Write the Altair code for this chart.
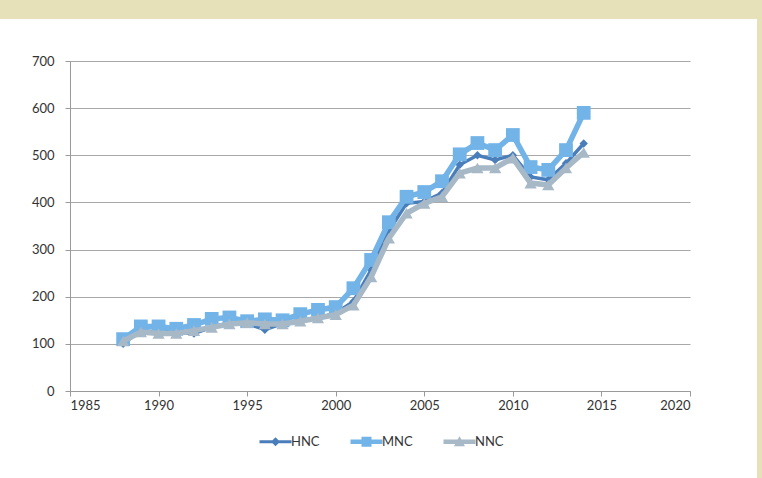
import altair as alt
import pandas as pd

years = list(range(1988, 2015))
hnc = [100, 128, 125, 125, 122, 135, 145, 143, 130, 143, 148, 155, 165, 190, 257, 340, 398, 402, 420, 480, 500, 490, 500, 454, 448, 483, 525]
mnc = [110, 137, 137, 132, 140, 153, 156, 148, 152, 150, 163, 172, 178, 218, 278, 358, 412, 422, 445, 502, 526, 511, 543, 475, 469, 511, 590]
nnc = [106, 125, 122, 122, 128, 135, 142, 145, 142, 142, 148, 155, 162, 182, 242, 324, 377, 398, 412, 462, 473, 473, 494, 441, 437, 473, 506]

series = ["HNC", "MNC", "NNC"]
colors = ["#4a7ebb", "#72b3e8", "#a7b8c6"]
x_ticks = [1985, 1990, 1995, 2000, 2005, 2010, 2015, 2020]
y_ticks = [0, 100, 200, 300, 400, 500, 600, 700]

rows = []
for name, vals in zip(series, [hnc, mnc, nnc]):
    for yr, v in zip(years, vals):
        rows.append({"year": yr, "value": v, "series": name})
df = pd.DataFrame(rows)

FONT = "Lato"

xenc = alt.X("year:Q", scale=alt.Scale(domain=[1985, 2020], nice=False, zero=False),
             axis=alt.Axis(values=x_ticks, format="d", title=None, grid=False,
                           domainColor="#9a9a9a", tickColor="#9a9a9a", tickSize=5,
                           labelPadding=3, labelFont=FONT, labelFontSize=13,
                           labelColor="#333333"))
yenc = alt.Y("value:Q", scale=alt.Scale(domain=[0, 700], nice=False),
             axis=alt.Axis(values=y_ticks, title=None, grid=True, gridColor="#a8a8a8",
                           gridWidth=1, domainColor="#9a9a9a", tickColor="#9a9a9a",
                           tickSize=5, labelPadding=11, labelFont=FONT, labelFontSize=13,
                           labelColor="#333333"))

# filled legend glyphs: a thin bar (the line) plus the marker
legend_paths = [
    "M-3.2,-0.3L3.2,-0.3L3.2,0.3L-3.2,0.3Z M0,-0.9L0.9,0L0,0.9L-0.9,0Z",
    "M-3.2,-0.45L3.2,-0.45L3.2,0.45L-3.2,0.45Z M-1,-1L1,-1L1,1L-1,1Z",
    "M-3.2,-0.45L3.2,-0.45L3.2,0.45L-3.2,0.45Z M0,-1.1L1.1,0.9L-1.1,0.9Z",
]

cscale = alt.Scale(domain=series, range=colors)
leg = alt.Legend(title=None, orient="none", direction="horizontal",
                 legendX=199, legendY=374, padding=0, symbolOpacity=1,
                 symbolSize=100, symbolStrokeWidth=0, labelOffset=9, columnPadding=30,
                 labelFont=FONT, labelFontSize=13, labelColor="#333333")

base = alt.Chart(df)
layers = []

band_top = alt.Chart(pd.DataFrame({"a": [0]})).mark_rect(color="#e7e1b9").encode(
    x=alt.value(-70), x2=alt.value(692), y=alt.value(-61), y2=alt.value(-42))
band_right = alt.Chart(pd.DataFrame({"a": [0]})).mark_rect(color="#e7e1b9").encode(
    x=alt.value(687), x2=alt.value(692), y=alt.value(-61), y2=alt.value(417))
layers += [band_top, band_right]

styles = {
    "HNC": dict(width=3.5, shape="diamond", size=70),
    "MNC": dict(width=5.5, shape="square", size=190),
    "NNC": dict(width=5.5, shape="triangle-up", size=150),
}
for s, c in zip(series, colors):
    st = styles[s]
    sub = base.transform_filter(alt.datum.series == s)
    layers.append(sub.mark_line(strokeWidth=st["width"], color=c).encode(x=xenc, y=yenc))
    layers.append(sub.mark_point(shape=st["shape"], size=st["size"], filled=True,
                                 opacity=1, color=c).encode(x=xenc, y=yenc))

legend_layer = base.mark_point(size=100, filled=True, opacity=0).encode(
    x=xenc, y=yenc,
    color=alt.Color("series:N", scale=cscale, legend=leg),
    shape=alt.Shape("series:N", scale=alt.Scale(domain=series, range=legend_paths), legend=leg),
)
layers.append(legend_layer)

chart = alt.layer(*layers).properties(
    width=620, height=330,
    autosize=alt.AutoSizeParams(type="none"),
    padding={"left": 70, "top": 61, "right": 72, "bottom": 87},
    background="white",
).configure_view(stroke=None)

chart.save("out.html", embed_options={"renderer": "svg", "actions": False})
